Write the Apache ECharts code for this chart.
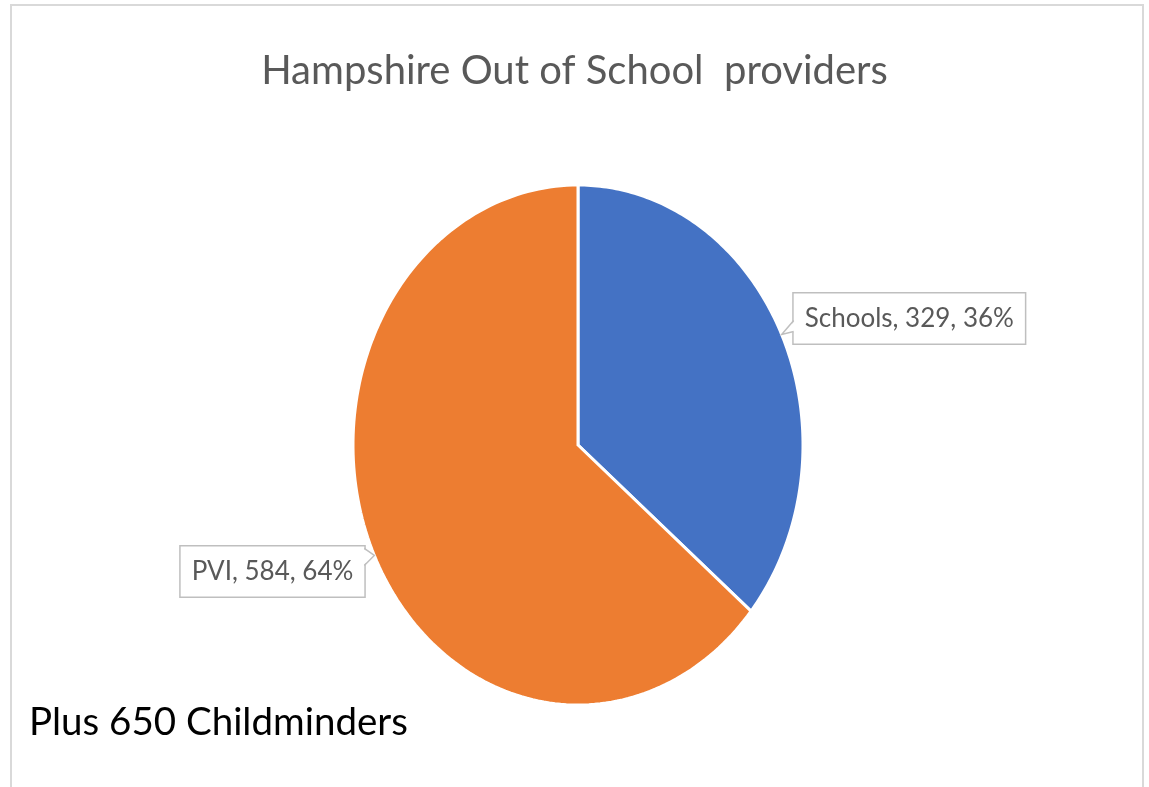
<!DOCTYPE html>
<html>
<head>
<meta charset="utf-8">
<script src="https://cdn.jsdelivr.net/npm/echarts@6/dist/echarts.min.js"></script>
<style>
html,body{margin:0;padding:0;background:#fff;}
#chart{width:1149px;height:787px;}
</style>
</head>
<body>
<div id="chart"></div>
<script>
const titleText = 'Hampshire Out of School  providers';
const noteText = 'Plus 650 Childminders';
const categories = ['Schools', 'PVI'];
const values = [329, 584];
const percentLabels = ['36%', '64%'];
const colors = ['#4472C4', '#ED7D31'];

const total = values.reduce((a, b) => a + b, 0);
const FONT = 'Lato, "Noto Sans", sans-serif';

function sliceAngles(i) {
  let start = 0;
  for (let k = 0; k < i; k++) start += values[k] / total * Math.PI * 2;
  const end = start + values[i] / total * Math.PI * 2;
  return [start, end];
}

const chart = echarts.init(document.getElementById('chart'), null, {renderer: 'canvas'});

function renderSlice(params, api) {
  const i = params.dataIndex;
  const [a0, a1] = sliceAngles(i);
  const pts = [api.coord([0, 0])];
  const steps = 160;
  for (let s = 0; s <= steps; s++) {
    const a = a0 + (a1 - a0) * s / steps;
    pts.push(api.coord([Math.sin(a), Math.cos(a)]));
  }
  return {
    type: 'polygon',
    shape: {points: pts},
    style: {fill: colors[i], stroke: '#ffffff', lineWidth: 3, lineJoin: 'miter'}
  };
}

function renderLabel(params, api) {
  const i = params.dataIndex;
  const [a0, a1] = sliceAngles(i);
  const am = (a0 + a1) / 2;
  const tip = api.coord([Math.sin(am), Math.cos(am)]);
  const right = Math.sin(am) >= 0;
  const text = categories[i] + ', ' + api.value(1) + ', ' + percentLabels[i];
  const children = [];
  let bx, cy, base;
  if (right) {
    bx = tip[0] + 12;
    cy = tip[1] - 16;
    base = [[bx, tip[1] - 14], [bx, tip[1] - 3]];
  } else {
    bx = tip[0] - 10;
    cy = tip[1] + 16;
    base = [[bx, tip[1] - 7], [bx, tip[1] + 10]];
  }
  children.push({
    type: 'text',
    x: bx,
    y: cy,
    style: {
      text: text,
      fontFamily: FONT,
      fontSize: 26,
      fill: '#595959',
      align: right ? 'left' : 'right',
      verticalAlign: 'middle',
      backgroundColor: '#ffffff',
      borderColor: '#bfbfbf',
      borderWidth: 1.5,
      padding: [12, 11, 12, 11]
    }
  });
  const dx = right ? 1.5 : -1.5;
  children.push({
    type: 'polygon',
    shape: {points: [[base[0][0] + dx, base[0][1]], tip, [base[1][0] + dx, base[1][1]]]},
    style: {fill: '#ffffff', stroke: null}
  });
  children.push({
    type: 'polyline',
    shape: {points: [base[0], tip, base[1]]},
    style: {stroke: '#bfbfbf', lineWidth: 1.5, fill: null}
  });
  return {type: 'group', children: children};
}

const seriesData = values.map((v, i) => [i, v]);

chart.setOption({
  animation: false,
  backgroundColor: '#ffffff',
  title: [{
    text: titleText,
    left: 'center',
    top: 46,
    textStyle: {fontFamily: FONT, fontSize: 40, fontWeight: 'normal', color: '#595959'}
  }, {
    text: noteText,
    left: 24,
    top: 698,
    textStyle: {fontFamily: FONT, fontSize: 38.5, fontWeight: 'normal', color: '#000000'}
  }],
  graphic: [{
    type: 'rect',
    shape: {x: 11, y: 5, width: 1132, height: 800},
    style: {fill: null, stroke: '#d9d9d9', lineWidth: 2},
    z: 0
  }],
  grid: {left: 353, width: 450, top: 185, height: 520, containLabel: false},
  xAxis: {type: 'value', min: -1, max: 1, show: false},
  yAxis: {type: 'value', min: -1, max: 1, show: false},
  series: [{
    type: 'custom',
    name: 'slices',
    data: seriesData,
    renderItem: renderSlice,
    clip: false,
    z: 2
  }, {
    type: 'custom',
    name: 'labels',
    data: seriesData,
    renderItem: renderLabel,
    clip: false,
    z: 5
  }]
});
</script>
</body>
</html>
